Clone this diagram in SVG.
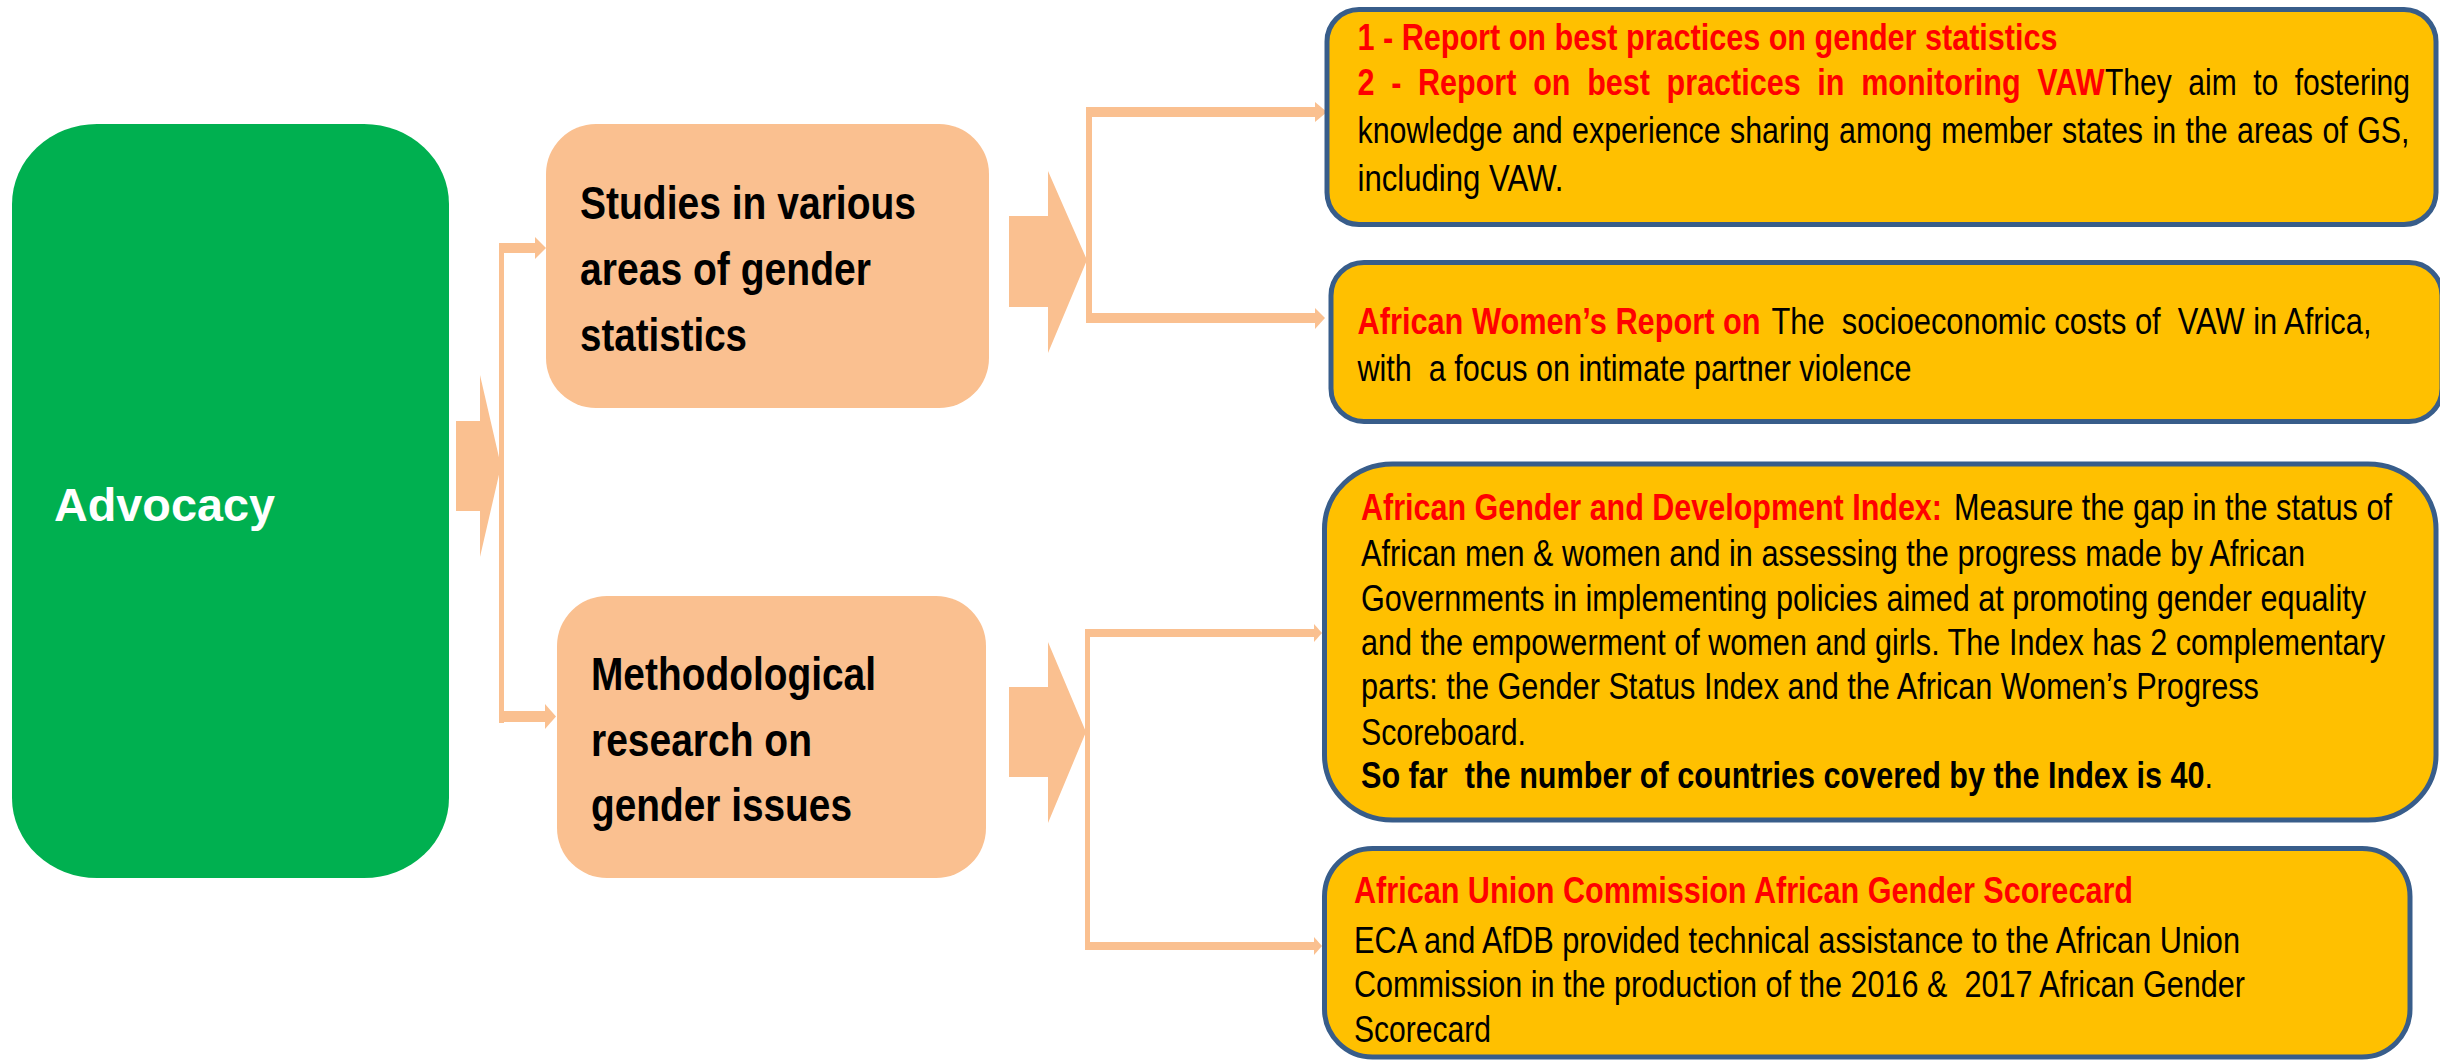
<svg xmlns="http://www.w3.org/2000/svg" width="2440" height="1061" viewBox="0 0 2440 1061">
<style>
.bg{fill:#FFFFFF}
.green{fill:#00B050}
.peach{fill:#FAC090}
.card{fill:#FFC000;stroke:#385D8A;stroke-width:5}
.conn{fill:#FAC090;stroke:none}
.t{font-family:"Liberation Sans",Arial,sans-serif;font-size:37px;fill:#000000}
.big{font-family:"Liberation Sans",Arial,sans-serif;font-size:47px;font-weight:bold;fill:#000000}
.adv{font-family:"Liberation Sans",Arial,sans-serif;font-size:47px;font-weight:bold;fill:#FFFFFF}
.b{font-weight:bold}
.n{font-weight:normal}
.red{fill:#FF0000}
</style>
<rect class="bg" x="0" y="0" width="2440" height="1061"/>

<g id="connectors">
  <polygon class="conn" points="456,421 480,421 480,375 501,466 480,557 480,511 456,511"/>
  <rect class="conn" x="499" y="243" width="5" height="480"/>
  <rect class="conn" x="499" y="243" width="37" height="10"/>
  <polygon class="conn" points="535,237 546,248 535,259"/>
  <rect class="conn" x="499" y="711" width="47" height="11"/>
  <polygon class="conn" points="545,704 556,716.5 545,729"/>

  <polygon class="conn" points="1009,216 1048,216 1048,171 1087,260 1048,353 1048,307 1009,307"/>
  <rect class="conn" x="1086" y="107" width="6" height="216"/>
  <rect class="conn" x="1086" y="107" width="230" height="10"/>
  <polygon class="conn" points="1315,102 1327,112 1315,122"/>
  <rect class="conn" x="1088" y="313" width="228" height="10"/>
  <polygon class="conn" points="1315,308 1325,318 1315,329"/>

  <polygon class="conn" points="1009,687 1048,687 1048,642 1086,732 1048,823 1048,777 1009,777"/>
  <rect class="conn" x="1085" y="629" width="5" height="321"/>
  <rect class="conn" x="1085" y="629" width="230" height="8"/>
  <polygon class="conn" points="1314,624 1322,633 1314,642"/>
  <rect class="conn" x="1085" y="942" width="230" height="8"/>
  <polygon class="conn" points="1314,937 1322,946 1314,955"/>
</g>

<g id="advocacy">
  <rect class="green" x="12" y="124" width="437" height="754" rx="85" ry="80"/>
  <text class="adv" x="54" y="521" textLength="221" lengthAdjust="spacingAndGlyphs">Advocacy</text>
</g>

<g id="studies">
  <rect class="peach" x="546" y="124" width="443" height="284" rx="50" ry="50"/>
  <g transform="matrix(0.82 0 0 1 104.4 0)">
    <text class="big" x="580" y="219" textLength="409.8" lengthAdjust="spacingAndGlyphs">Studies in various</text>
    <text class="big" x="580" y="285" textLength="354.9" lengthAdjust="spacingAndGlyphs">areas of gender</text>
    <text class="big" x="580" y="351" textLength="203.7" lengthAdjust="spacingAndGlyphs">statistics</text>
  </g>
</g>

<g id="methodological">
  <rect class="peach" x="557" y="596" width="429" height="282" rx="50" ry="50"/>
  <g transform="matrix(0.82 0 0 1 106.38 0)">
    <text class="big" x="591" y="690" textLength="347.6" lengthAdjust="spacingAndGlyphs">Methodological</text>
    <text class="big" x="591" y="756" textLength="269.5" lengthAdjust="spacingAndGlyphs">research on</text>
    <text class="big" x="591" y="821" textLength="318.3" lengthAdjust="spacingAndGlyphs">gender issues</text>
  </g>
</g>

<g id="best-practices">
  <rect class="card" x="1327" y="9.5" width="1109" height="215" rx="32" ry="32"/>
  <g transform="matrix(0.82 0 0 1 244.35 0)">
    <text class="t b red" x="1357.5" y="50" textLength="853.7" lengthAdjust="spacingAndGlyphs">1 - Report on best practices on gender statistics</text>
    <text class="t b red" x="1357.5" y="95" word-spacing="10" textLength="911" lengthAdjust="spacingAndGlyphs">2 - Report on best practices in monitoring VAW</text>
    <text class="t" x="1357.5" y="143" word-spacing="1.2" textLength="1282.9" lengthAdjust="spacingAndGlyphs">knowledge and experience sharing among member states in the areas of GS,</text>
    <text class="t" x="1357.5" y="191" textLength="251.2" lengthAdjust="spacingAndGlyphs">including VAW.</text>
  </g>
  <text class="t" x="2105" y="95" word-spacing="10" transform="matrix(0.82 0 0 1 378.9 0)" textLength="372" lengthAdjust="spacingAndGlyphs">They aim to fostering</text>
</g>

<g id="womens-report">
  <rect class="card" x="1331" y="262.5" width="1111" height="159" rx="33" ry="33"/>
  <g transform="matrix(0.82 0 0 1 244.35 0)">
    <text class="t b red" x="1357.5" y="334" xml:space="preserve" textLength="491.5" lengthAdjust="spacingAndGlyphs">African Women’s Report on</text>
    <text class="t" x="1357.5" y="381" xml:space="preserve" textLength="675.6" lengthAdjust="spacingAndGlyphs">with  a focus on intimate partner violence</text>
  </g>
  <text class="t" x="1771.5" y="334" xml:space="preserve" transform="matrix(0.82 0 0 1 318.87 0)" textLength="731.7" lengthAdjust="spacingAndGlyphs">The  socioeconomic costs of  VAW in Africa,</text>
</g>

<g id="gender-index">
  <rect class="card" x="1324.5" y="464" width="1111.5" height="356" rx="68" ry="65"/>
  <g transform="matrix(0.82 0 0 1 244.98 0)">
    <text class="t b red" x="1361" y="520" textLength="708.5" lengthAdjust="spacingAndGlyphs">African Gender and Development Index:</text>
    <text class="t" x="1361" y="566" textLength="1151.2" lengthAdjust="spacingAndGlyphs">African men &amp; women and in assessing the progress made by African</text>
    <text class="t" x="1361" y="611" textLength="1225.6" lengthAdjust="spacingAndGlyphs">Governments in implementing policies aimed at promoting gender equality</text>
    <text class="t" x="1361" y="655" textLength="1248.8" lengthAdjust="spacingAndGlyphs">and the empowerment of women and girls. The Index has 2 complementary</text>
    <text class="t" x="1361" y="699" textLength="1095.1" lengthAdjust="spacingAndGlyphs">parts: the Gender Status Index and the African Women’s Progress</text>
    <text class="t" x="1361" y="745" textLength="201.2" lengthAdjust="spacingAndGlyphs">Scoreboard.</text>
    <text class="t b" x="1361" y="788" xml:space="preserve" textLength="1039" lengthAdjust="spacingAndGlyphs">So far  the number of countries covered by the Index is 40<tspan class="n">.</tspan></text>
  </g>
  <text class="t" x="1954" y="520" transform="matrix(0.82 0 0 1 351.72 0)" textLength="534.1" lengthAdjust="spacingAndGlyphs">Measure the gap in the status of</text>
</g>

<g id="au-scorecard">
  <rect class="card" x="1324.5" y="848.5" width="1085.5" height="208.5" rx="48" ry="48"/>
  <g transform="matrix(0.82 0 0 1 243.72 0)">
    <text class="t b red" x="1354" y="903" textLength="950" lengthAdjust="spacingAndGlyphs">African Union Commission African Gender Scorecard</text>
    <text class="t" x="1354" y="953" textLength="1080.5" lengthAdjust="spacingAndGlyphs">ECA and AfDB provided technical assistance to the African Union</text>
    <text class="t" x="1354" y="997" xml:space="preserve" textLength="1086.6" lengthAdjust="spacingAndGlyphs">Commission in the production of the 2016 &amp;  2017 African Gender</text>
    <text class="t" x="1354" y="1042" textLength="167.1" lengthAdjust="spacingAndGlyphs">Scorecard</text>
  </g>
</g>
</svg>
